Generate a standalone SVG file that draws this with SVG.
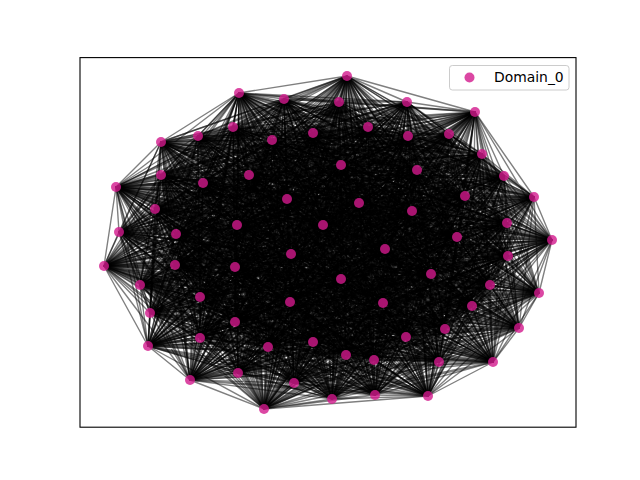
<svg xmlns="http://www.w3.org/2000/svg" width="640" height="480" viewBox="0 0 640 480">
<style>
#edges path{fill:none;stroke:#000;stroke-opacity:.5;stroke-width:1.39;stroke-linejoin:round}
.nd{fill:#d2198c;fill-opacity:.8}
.lbl{font-family:"DejaVu Sans","Liberation Sans",sans-serif;font-size:13.9px;fill:#000}
</style>
<rect width="640" height="480" fill="#fff"/>
<g id="edges">
<path d="M347 76 239 93 428 396 284 99 375 395 339 102 332 399 407 102 264 409 475 112 294 383 233 127 190 380 198 136 238 373 161 142 493 362 272 140 439 362 313 133 374 360 368 127 346 355 408 136 406 337 449 134 313 342 482 154 268 347 341 165 148 346 417 170 200 338 161 175 519 328 203 183 445 329 249 175 235 322 504 176 150 313 116 187 472 306 287 199 383 303 359 203 290 302 465 196 200 297 534 197 539 293 155 209 490 285 412 211 140 285 237 225 431 274 323 225 341 279 507 223 235 267 119 232 175 265 176 234 104 266 457 237 508 256 552 240 291 254 385 249"/>
<path d="M239 93 284 99 347 76 339 102 428 396 407 102 375 395 475 112 332 399 233 127 264 409 198 136 294 383 161 142 190 380 272 140 238 373 313 133 493 362 368 127 439 362 408 136 374 360 449 134 346 355 482 154 406 337 341 165 313 342 417 170 268 347 161 175 148 346 203 183 200 338 249 175 519 328 504 176 445 329 116 187 235 322 287 199 150 313 359 203 472 306 465 196 383 303 534 197 290 302 155 209 200 297 412 211 539 293 237 225 490 285 323 225 140 285 507 223 431 274 119 232 341 279 176 234 235 267 457 237 175 265 552 240 104 266 385 249 508 256 291 254"/>
<path d="M284 99 339 102 239 93 407 102 347 76 475 112 428 396 233 127 375 395 198 136 332 399 161 142 264 409 272 140 294 383 313 133 190 380 368 127 238 373 408 136 493 362 449 134 439 362 482 154 374 360 341 165 346 355 417 170 406 337 161 175 313 342 203 183 268 347 249 175 148 346 504 176 200 338 116 187 519 328 287 199 445 329 359 203 235 322 465 196 150 313 534 197 472 306 155 209 383 303 412 211 290 302 237 225 200 297 323 225 539 293 507 223 490 285 119 232 140 285 176 234 431 274 457 237 341 279 552 240 235 267 385 249 175 265 291 254 104 266 508 256"/>
<path d="M339 102 407 102 284 99 475 112 239 93 233 127 347 76 198 136 428 396 161 142 375 395 272 140 332 399 313 133 264 409 368 127 294 383 408 136 190 380 449 134 238 373 482 154 493 362 341 165 439 362 417 170 374 360 161 175 346 355 203 183 406 337 249 175 313 342 504 176 268 347 116 187 148 346 287 199 200 338 359 203 519 328 465 196 445 329 534 197 235 322 155 209 150 313 412 211 472 306 237 225 383 303 323 225 290 302 507 223 200 297 119 232 539 293 176 234 490 285 457 237 140 285 552 240 431 274 385 249 341 279 291 254 235 267 508 256 175 265 104 266"/>
<path d="M407 102 475 112 339 102 233 127 284 99 198 136 239 93 161 142 347 76 272 140 428 396 313 133 375 395 368 127 332 399 408 136 264 409 449 134 294 383 482 154 190 380 341 165 238 373 417 170 493 362 161 175 439 362 203 183 374 360 249 175 346 355 504 176 406 337 116 187 313 342 287 199 268 347 359 203 148 346 465 196 200 338 534 197 519 328 155 209 445 329 412 211 235 322 237 225 150 313 323 225 472 306 507 223 383 303 119 232 290 302 176 234 200 297 457 237 539 293 552 240 490 285 385 249 140 285 291 254 431 274 508 256 341 279 104 266 235 267 175 265"/>
<path d="M475 112 233 127 407 102 198 136 339 102 161 142 284 99 272 140 239 93 313 133 347 76 368 127 428 396 408 136 375 395 449 134 332 399 482 154 264 409 341 165 294 383 417 170 190 380 161 175 238 373 203 183 493 362 249 175 439 362 504 176 374 360 116 187 346 355 287 199 406 337 359 203 313 342 465 196 268 347 534 197 148 346 155 209 200 338 412 211 519 328 237 225 445 329 323 225 235 322 507 223 150 313 119 232 472 306 176 234 383 303 457 237 290 302 552 240 200 297 385 249 539 293 291 254 490 285 508 256 140 285 104 266 431 274 175 265 341 279 235 267"/>
<path d="M233 127 198 136 475 112 161 142 407 102 272 140 339 102 313 133 284 99 368 127 239 93 408 136 347 76 449 134 428 396 482 154 375 395 341 165 332 399 417 170 264 409 161 175 294 383 203 183 190 380 249 175 238 373 504 176 493 362 116 187 439 362 287 199 374 360 359 203 346 355 465 196 406 337 534 197 313 342 155 209 268 347 412 211 148 346 237 225 200 338 323 225 519 328 507 223 445 329 119 232 235 322 176 234 150 313 457 237 472 306 552 240 383 303 385 249 290 302 291 254 200 297 508 256 539 293 104 266 490 285 175 265 140 285 235 267 431 274 341 279"/>
<path d="M198 136 161 142 233 127 272 140 475 112 313 133 407 102 368 127 339 102 408 136 284 99 449 134 239 93 482 154 347 76 341 165 428 396 417 170 375 395 161 175 332 399 203 183 264 409 249 175 294 383 504 176 190 380 116 187 238 373 287 199 493 362 359 203 439 362 465 196 374 360 534 197 346 355 155 209 406 337 412 211 313 342 237 225 268 347 323 225 148 346 507 223 200 338 119 232 519 328 176 234 445 329 457 237 235 322 552 240 150 313 385 249 472 306 291 254 383 303 508 256 290 302 104 266 200 297 175 265 539 293 235 267 490 285 341 279 140 285 431 274"/>
<path d="M161 142 272 140 198 136 313 133 233 127 368 127 475 112 408 136 407 102 449 134 339 102 482 154 284 99 341 165 239 93 417 170 347 76 161 175 428 396 203 183 375 395 249 175 332 399 504 176 264 409 116 187 294 383 287 199 190 380 359 203 238 373 465 196 493 362 534 197 439 362 155 209 374 360 412 211 346 355 237 225 406 337 323 225 313 342 507 223 268 347 119 232 148 346 176 234 200 338 457 237 519 328 552 240 445 329 385 249 235 322 291 254 150 313 508 256 472 306 104 266 383 303 175 265 290 302 235 267 200 297 341 279 539 293 431 274 490 285 140 285"/>
<path d="M272 140 313 133 161 142 368 127 198 136 408 136 233 127 449 134 475 112 482 154 407 102 341 165 339 102 417 170 284 99 161 175 239 93 203 183 347 76 249 175 428 396 504 176 375 395 116 187 332 399 287 199 264 409 359 203 294 383 465 196 190 380 534 197 238 373 155 209 493 362 412 211 439 362 237 225 374 360 323 225 346 355 507 223 406 337 119 232 313 342 176 234 268 347 457 237 148 346 552 240 200 338 385 249 519 328 291 254 445 329 508 256 235 322 104 266 150 313 175 265 472 306 235 267 383 303 341 279 290 302 431 274 200 297 140 285 539 293 490 285"/>
<path d="M313 133 368 127 272 140 408 136 161 142 449 134 198 136 482 154 233 127 341 165 475 112 417 170 407 102 161 175 339 102 203 183 284 99 249 175 239 93 504 176 347 76 116 187 428 396 287 199 375 395 359 203 332 399 465 196 264 409 534 197 294 383 155 209 190 380 412 211 238 373 237 225 493 362 323 225 439 362 507 223 374 360 119 232 346 355 176 234 406 337 457 237 313 342 552 240 268 347 385 249 148 346 291 254 200 338 508 256 519 328 104 266 445 329 175 265 235 322 235 267 150 313 341 279 472 306 431 274 383 303 140 285 290 302 490 285 200 297 539 293"/>
<path d="M368 127 408 136 313 133 449 134 272 140 482 154 161 142 341 165 198 136 417 170 233 127 161 175 475 112 203 183 407 102 249 175 339 102 504 176 284 99 116 187 239 93 287 199 347 76 359 203 428 396 465 196 375 395 534 197 332 399 155 209 264 409 412 211 294 383 237 225 190 380 323 225 238 373 507 223 493 362 119 232 439 362 176 234 374 360 457 237 346 355 552 240 406 337 385 249 313 342 291 254 268 347 508 256 148 346 104 266 200 338 175 265 519 328 235 267 445 329 341 279 235 322 431 274 150 313 140 285 472 306 490 285 383 303 539 293 290 302 200 297"/>
<path d="M408 136 449 134 368 127 482 154 313 133 341 165 272 140 417 170 161 142 161 175 198 136 203 183 233 127 249 175 475 112 504 176 407 102 116 187 339 102 287 199 284 99 359 203 239 93 465 196 347 76 534 197 428 396 155 209 375 395 412 211 332 399 237 225 264 409 323 225 294 383 507 223 190 380 119 232 238 373 176 234 493 362 457 237 439 362 552 240 374 360 385 249 346 355 291 254 406 337 508 256 313 342 104 266 268 347 175 265 148 346 235 267 200 338 341 279 519 328 431 274 445 329 140 285 235 322 490 285 150 313 539 293 472 306 200 297 383 303 290 302"/>
<path d="M449 134 482 154 408 136 341 165 368 127 417 170 313 133 161 175 272 140 203 183 161 142 249 175 198 136 504 176 233 127 116 187 475 112 287 199 407 102 359 203 339 102 465 196 284 99 534 197 239 93 155 209 347 76 412 211 428 396 237 225 375 395 323 225 332 399 507 223 264 409 119 232 294 383 176 234 190 380 457 237 238 373 552 240 493 362 385 249 439 362 291 254 374 360 508 256 346 355 104 266 406 337 175 265 313 342 235 267 268 347 341 279 148 346 431 274 200 338 140 285 519 328 490 285 445 329 539 293 235 322 200 297 150 313 290 302 472 306 383 303"/>
<path d="M482 154 341 165 449 134 417 170 408 136 161 175 368 127 203 183 313 133 249 175 272 140 504 176 161 142 116 187 198 136 287 199 233 127 359 203 475 112 465 196 407 102 534 197 339 102 155 209 284 99 412 211 239 93 237 225 347 76 323 225 428 396 507 223 375 395 119 232 332 399 176 234 264 409 457 237 294 383 552 240 190 380 385 249 238 373 291 254 493 362 508 256 439 362 104 266 374 360 175 265 346 355 235 267 406 337 341 279 313 342 431 274 268 347 140 285 148 346 490 285 200 338 539 293 519 328 200 297 445 329 290 302 235 322 383 303 150 313 472 306"/>
<path d="M341 165 417 170 482 154 161 175 449 134 203 183 408 136 249 175 368 127 504 176 313 133 116 187 272 140 287 199 161 142 359 203 198 136 465 196 233 127 534 197 475 112 155 209 407 102 412 211 339 102 237 225 284 99 323 225 239 93 507 223 347 76 119 232 428 396 176 234 375 395 457 237 332 399 552 240 264 409 385 249 294 383 291 254 190 380 508 256 238 373 104 266 493 362 175 265 439 362 235 267 374 360 341 279 346 355 431 274 406 337 140 285 313 342 490 285 268 347 539 293 148 346 200 297 200 338 290 302 519 328 383 303 445 329 472 306 235 322 150 313"/>
<path d="M417 170 161 175 341 165 203 183 482 154 249 175 449 134 504 176 408 136 116 187 368 127 287 199 313 133 359 203 272 140 465 196 161 142 534 197 198 136 155 209 233 127 412 211 475 112 237 225 407 102 323 225 339 102 507 223 284 99 119 232 239 93 176 234 347 76 457 237 428 396 552 240 375 395 385 249 332 399 291 254 264 409 508 256 294 383 104 266 190 380 175 265 238 373 235 267 493 362 341 279 439 362 431 274 374 360 140 285 346 355 490 285 406 337 539 293 313 342 200 297 268 347 290 302 148 346 383 303 200 338 472 306 519 328 150 313 445 329 235 322"/>
<path d="M161 175 203 183 417 170 249 175 341 165 504 176 482 154 116 187 449 134 287 199 408 136 359 203 368 127 465 196 313 133 534 197 272 140 155 209 161 142 412 211 198 136 237 225 233 127 323 225 475 112 507 223 407 102 119 232 339 102 176 234 284 99 457 237 239 93 552 240 347 76 385 249 428 396 291 254 375 395 508 256 332 399 104 266 264 409 175 265 294 383 235 267 190 380 341 279 238 373 431 274 493 362 140 285 439 362 490 285 374 360 539 293 346 355 200 297 406 337 290 302 313 342 383 303 268 347 472 306 148 346 150 313 200 338 235 322 519 328 445 329"/>
<path d="M203 183 249 175 161 175 504 176 417 170 116 187 341 165 287 199 482 154 359 203 449 134 465 196 408 136 534 197 368 127 155 209 313 133 412 211 272 140 237 225 161 142 323 225 198 136 507 223 233 127 119 232 475 112 176 234 407 102 457 237 339 102 552 240 284 99 385 249 239 93 291 254 347 76 508 256 428 396 104 266 375 395 175 265 332 399 235 267 264 409 341 279 294 383 431 274 190 380 140 285 238 373 490 285 493 362 539 293 439 362 200 297 374 360 290 302 346 355 383 303 406 337 472 306 313 342 150 313 268 347 235 322 148 346 445 329 200 338 519 328"/>
<path d="M249 175 504 176 203 183 116 187 161 175 287 199 417 170 359 203 341 165 465 196 482 154 534 197 449 134 155 209 408 136 412 211 368 127 237 225 313 133 323 225 272 140 507 223 161 142 119 232 198 136 176 234 233 127 457 237 475 112 552 240 407 102 385 249 339 102 291 254 284 99 508 256 239 93 104 266 347 76 175 265 428 396 235 267 375 395 341 279 332 399 431 274 264 409 140 285 294 383 490 285 190 380 539 293 238 373 200 297 493 362 290 302 439 362 383 303 374 360 472 306 346 355 150 313 406 337 235 322 313 342 445 329 268 347 519 328 148 346 200 338"/>
<path d="M504 176 116 187 249 175 287 199 203 183 359 203 161 175 465 196 417 170 534 197 341 165 155 209 482 154 412 211 449 134 237 225 408 136 323 225 368 127 507 223 313 133 119 232 272 140 176 234 161 142 457 237 198 136 552 240 233 127 385 249 475 112 291 254 407 102 508 256 339 102 104 266 284 99 175 265 239 93 235 267 347 76 341 279 428 396 431 274 375 395 140 285 332 399 490 285 264 409 539 293 294 383 200 297 190 380 290 302 238 373 383 303 493 362 472 306 439 362 150 313 374 360 235 322 346 355 445 329 406 337 519 328 313 342 200 338 268 347 148 346"/>
<path d="M116 187 287 199 504 176 359 203 249 175 465 196 203 183 534 197 161 175 155 209 417 170 412 211 341 165 237 225 482 154 323 225 449 134 507 223 408 136 119 232 368 127 176 234 313 133 457 237 272 140 552 240 161 142 385 249 198 136 291 254 233 127 508 256 475 112 104 266 407 102 175 265 339 102 235 267 284 99 341 279 239 93 431 274 347 76 140 285 428 396 490 285 375 395 539 293 332 399 200 297 264 409 290 302 294 383 383 303 190 380 472 306 238 373 150 313 493 362 235 322 439 362 445 329 374 360 519 328 346 355 200 338 406 337 148 346 313 342 268 347"/>
<path d="M287 199 359 203 116 187 465 196 504 176 534 197 249 175 155 209 203 183 412 211 161 175 237 225 417 170 323 225 341 165 507 223 482 154 119 232 449 134 176 234 408 136 457 237 368 127 552 240 313 133 385 249 272 140 291 254 161 142 508 256 198 136 104 266 233 127 175 265 475 112 235 267 407 102 341 279 339 102 431 274 284 99 140 285 239 93 490 285 347 76 539 293 428 396 200 297 375 395 290 302 332 399 383 303 264 409 472 306 294 383 150 313 190 380 235 322 238 373 445 329 493 362 519 328 439 362 200 338 374 360 148 346 346 355 268 347 406 337 313 342"/>
<path d="M359 203 465 196 287 199 534 197 116 187 155 209 504 176 412 211 249 175 237 225 203 183 323 225 161 175 507 223 417 170 119 232 341 165 176 234 482 154 457 237 449 134 552 240 408 136 385 249 368 127 291 254 313 133 508 256 272 140 104 266 161 142 175 265 198 136 235 267 233 127 341 279 475 112 431 274 407 102 140 285 339 102 490 285 284 99 539 293 239 93 200 297 347 76 290 302 428 396 383 303 375 395 472 306 332 399 150 313 264 409 235 322 294 383 445 329 190 380 519 328 238 373 200 338 493 362 148 346 439 362 268 347 374 360 313 342 346 355 406 337"/>
<path d="M465 196 534 197 359 203 155 209 287 199 412 211 116 187 237 225 504 176 323 225 249 175 507 223 203 183 119 232 161 175 176 234 417 170 457 237 341 165 552 240 482 154 385 249 449 134 291 254 408 136 508 256 368 127 104 266 313 133 175 265 272 140 235 267 161 142 341 279 198 136 431 274 233 127 140 285 475 112 490 285 407 102 539 293 339 102 200 297 284 99 290 302 239 93 383 303 347 76 472 306 428 396 150 313 375 395 235 322 332 399 445 329 264 409 519 328 294 383 200 338 190 380 148 346 238 373 268 347 493 362 313 342 439 362 406 337 374 360 346 355"/>
<path d="M534 197 155 209 465 196 412 211 359 203 237 225 287 199 323 225 116 187 507 223 504 176 119 232 249 175 176 234 203 183 457 237 161 175 552 240 417 170 385 249 341 165 291 254 482 154 508 256 449 134 104 266 408 136 175 265 368 127 235 267 313 133 341 279 272 140 431 274 161 142 140 285 198 136 490 285 233 127 539 293 475 112 200 297 407 102 290 302 339 102 383 303 284 99 472 306 239 93 150 313 347 76 235 322 428 396 445 329 375 395 519 328 332 399 200 338 264 409 148 346 294 383 268 347 190 380 313 342 238 373 406 337 493 362 346 355 439 362 374 360"/>
<path d="M155 209 412 211 534 197 237 225 465 196 323 225 359 203 507 223 287 199 119 232 116 187 176 234 504 176 457 237 249 175 552 240 203 183 385 249 161 175 291 254 417 170 508 256 341 165 104 266 482 154 175 265 449 134 235 267 408 136 341 279 368 127 431 274 313 133 140 285 272 140 490 285 161 142 539 293 198 136 200 297 233 127 290 302 475 112 383 303 407 102 472 306 339 102 150 313 284 99 235 322 239 93 445 329 347 76 519 328 428 396 200 338 375 395 148 346 332 399 268 347 264 409 313 342 294 383 406 337 190 380 346 355 238 373 374 360 493 362 439 362"/>
<path d="M412 211 237 225 155 209 323 225 534 197 507 223 465 196 119 232 359 203 176 234 287 199 457 237 116 187 552 240 504 176 385 249 249 175 291 254 203 183 508 256 161 175 104 266 417 170 175 265 341 165 235 267 482 154 341 279 449 134 431 274 408 136 140 285 368 127 490 285 313 133 539 293 272 140 200 297 161 142 290 302 198 136 383 303 233 127 472 306 475 112 150 313 407 102 235 322 339 102 445 329 284 99 519 328 239 93 200 338 347 76 148 346 428 396 268 347 375 395 313 342 332 399 406 337 264 409 346 355 294 383 374 360 190 380 439 362 238 373 493 362"/>
<path d="M237 225 323 225 412 211 507 223 155 209 119 232 534 197 176 234 465 196 457 237 359 203 552 240 287 199 385 249 116 187 291 254 504 176 508 256 249 175 104 266 203 183 175 265 161 175 235 267 417 170 341 279 341 165 431 274 482 154 140 285 449 134 490 285 408 136 539 293 368 127 200 297 313 133 290 302 272 140 383 303 161 142 472 306 198 136 150 313 233 127 235 322 475 112 445 329 407 102 519 328 339 102 200 338 284 99 148 346 239 93 268 347 347 76 313 342 428 396 406 337 375 395 346 355 332 399 374 360 264 409 439 362 294 383 493 362 190 380 238 373"/>
<path d="M323 225 507 223 237 225 119 232 412 211 176 234 155 209 457 237 534 197 552 240 465 196 385 249 359 203 291 254 287 199 508 256 116 187 104 266 504 176 175 265 249 175 235 267 203 183 341 279 161 175 431 274 417 170 140 285 341 165 490 285 482 154 539 293 449 134 200 297 408 136 290 302 368 127 383 303 313 133 472 306 272 140 150 313 161 142 235 322 198 136 445 329 233 127 519 328 475 112 200 338 407 102 148 346 339 102 268 347 284 99 313 342 239 93 406 337 347 76 346 355 428 396 374 360 375 395 439 362 332 399 493 362 264 409 238 373 294 383 190 380"/>
<path d="M507 223 119 232 323 225 176 234 237 225 457 237 412 211 552 240 155 209 385 249 534 197 291 254 465 196 508 256 359 203 104 266 287 199 175 265 116 187 235 267 504 176 341 279 249 175 431 274 203 183 140 285 161 175 490 285 417 170 539 293 341 165 200 297 482 154 290 302 449 134 383 303 408 136 472 306 368 127 150 313 313 133 235 322 272 140 445 329 161 142 519 328 198 136 200 338 233 127 148 346 475 112 268 347 407 102 313 342 339 102 406 337 284 99 346 355 239 93 374 360 347 76 439 362 428 396 493 362 375 395 238 373 332 399 190 380 264 409 294 383"/>
<path d="M119 232 176 234 507 223 457 237 323 225 552 240 237 225 385 249 412 211 291 254 155 209 508 256 534 197 104 266 465 196 175 265 359 203 235 267 287 199 341 279 116 187 431 274 504 176 140 285 249 175 490 285 203 183 539 293 161 175 200 297 417 170 290 302 341 165 383 303 482 154 472 306 449 134 150 313 408 136 235 322 368 127 445 329 313 133 519 328 272 140 200 338 161 142 148 346 198 136 268 347 233 127 313 342 475 112 406 337 407 102 346 355 339 102 374 360 284 99 439 362 239 93 493 362 347 76 238 373 428 396 190 380 375 395 294 383 332 399 264 409"/>
<path d="M176 234 457 237 119 232 552 240 507 223 385 249 323 225 291 254 237 225 508 256 412 211 104 266 155 209 175 265 534 197 235 267 465 196 341 279 359 203 431 274 287 199 140 285 116 187 490 285 504 176 539 293 249 175 200 297 203 183 290 302 161 175 383 303 417 170 472 306 341 165 150 313 482 154 235 322 449 134 445 329 408 136 519 328 368 127 200 338 313 133 148 346 272 140 268 347 161 142 313 342 198 136 406 337 233 127 346 355 475 112 374 360 407 102 439 362 339 102 493 362 284 99 238 373 239 93 190 380 347 76 294 383 428 396 264 409 375 395 332 399"/>
<path d="M457 237 552 240 176 234 385 249 119 232 291 254 507 223 508 256 323 225 104 266 237 225 175 265 412 211 235 267 155 209 341 279 534 197 431 274 465 196 140 285 359 203 490 285 287 199 539 293 116 187 200 297 504 176 290 302 249 175 383 303 203 183 472 306 161 175 150 313 417 170 235 322 341 165 445 329 482 154 519 328 449 134 200 338 408 136 148 346 368 127 268 347 313 133 313 342 272 140 406 337 161 142 346 355 198 136 374 360 233 127 439 362 475 112 493 362 407 102 238 373 339 102 190 380 284 99 294 383 239 93 264 409 347 76 332 399 428 396 375 395"/>
<path d="M552 240 385 249 457 237 291 254 176 234 508 256 119 232 104 266 507 223 175 265 323 225 235 267 237 225 341 279 412 211 431 274 155 209 140 285 534 197 490 285 465 196 539 293 359 203 200 297 287 199 290 302 116 187 383 303 504 176 472 306 249 175 150 313 203 183 235 322 161 175 445 329 417 170 519 328 341 165 200 338 482 154 148 346 449 134 268 347 408 136 313 342 368 127 406 337 313 133 346 355 272 140 374 360 161 142 439 362 198 136 493 362 233 127 238 373 475 112 190 380 407 102 294 383 339 102 264 409 284 99 332 399 239 93 375 395 347 76 428 396"/>
</g>
<g id="nodes">
<g id="n0"><circle class="nd" cx="347" cy="76" r="5"/></g>
<g id="n1"><circle class="nd" cx="239" cy="93" r="5"/></g>
<g id="n2"><circle class="nd" cx="284" cy="99" r="5"/></g>
<g id="n3"><circle class="nd" cx="339" cy="102" r="5"/></g>
<g id="n4"><circle class="nd" cx="407" cy="102" r="5"/></g>
<g id="n5"><circle class="nd" cx="475" cy="112" r="5"/></g>
<g id="n6"><circle class="nd" cx="233" cy="127" r="5"/></g>
<g id="n7"><circle class="nd" cx="198" cy="136" r="5"/></g>
<g id="n8"><circle class="nd" cx="161" cy="142" r="5"/></g>
<g id="n9"><circle class="nd" cx="272" cy="140" r="5"/></g>
<g id="n10"><circle class="nd" cx="313" cy="133" r="5"/></g>
<g id="n11"><circle class="nd" cx="368" cy="127" r="5"/></g>
<g id="n12"><circle class="nd" cx="408" cy="136" r="5"/></g>
<g id="n13"><circle class="nd" cx="449" cy="134" r="5"/></g>
<g id="n14"><circle class="nd" cx="482" cy="154" r="5"/></g>
<g id="n15"><circle class="nd" cx="341" cy="165" r="5"/></g>
<g id="n16"><circle class="nd" cx="417" cy="170" r="5"/></g>
<g id="n17"><circle class="nd" cx="161" cy="175" r="5"/></g>
<g id="n18"><circle class="nd" cx="203" cy="183" r="5"/></g>
<g id="n19"><circle class="nd" cx="249" cy="175" r="5"/></g>
<g id="n20"><circle class="nd" cx="504" cy="176" r="5"/></g>
<g id="n21"><circle class="nd" cx="116" cy="187" r="5"/></g>
<g id="n22"><circle class="nd" cx="287" cy="199" r="5"/></g>
<g id="n23"><circle class="nd" cx="359" cy="203" r="5"/></g>
<g id="n24"><circle class="nd" cx="465" cy="196" r="5"/></g>
<g id="n25"><circle class="nd" cx="534" cy="197" r="5"/></g>
<g id="n26"><circle class="nd" cx="155" cy="209" r="5"/></g>
<g id="n27"><circle class="nd" cx="412" cy="211" r="5"/></g>
<g id="n28"><circle class="nd" cx="237" cy="225" r="5"/></g>
<g id="n29"><circle class="nd" cx="323" cy="225" r="5"/></g>
<g id="n30"><circle class="nd" cx="507" cy="223" r="5"/></g>
<g id="n31"><circle class="nd" cx="119" cy="232" r="5"/></g>
<g id="n32"><circle class="nd" cx="176" cy="234" r="5"/></g>
<g id="n33"><circle class="nd" cx="457" cy="237" r="5"/></g>
<g id="n34"><circle class="nd" cx="552" cy="240" r="5"/></g>
<g id="n35"><circle class="nd" cx="385" cy="249" r="5"/></g>
<g id="n36"><circle class="nd" cx="291" cy="254" r="5"/></g>
<g id="n37"><circle class="nd" cx="508" cy="256" r="5"/></g>
<g id="n38"><circle class="nd" cx="104" cy="266" r="5"/></g>
<g id="n39"><circle class="nd" cx="175" cy="265" r="5"/></g>
<g id="n40"><circle class="nd" cx="235" cy="267" r="5"/></g>
<g id="n41"><circle class="nd" cx="341" cy="279" r="5"/></g>
<g id="n42"><circle class="nd" cx="431" cy="274" r="5"/></g>
<g id="n43"><circle class="nd" cx="140" cy="285" r="5"/></g>
<g id="n44"><circle class="nd" cx="490" cy="285" r="5"/></g>
<g id="n45"><circle class="nd" cx="539" cy="293" r="5"/></g>
<g id="n46"><circle class="nd" cx="200" cy="297" r="5"/></g>
<g id="n47"><circle class="nd" cx="290" cy="302" r="5"/></g>
<g id="n48"><circle class="nd" cx="383" cy="303" r="5"/></g>
<g id="n49"><circle class="nd" cx="472" cy="306" r="5"/></g>
<g id="n50"><circle class="nd" cx="150" cy="313" r="5"/></g>
<g id="n51"><circle class="nd" cx="235" cy="322" r="5"/></g>
<g id="n52"><circle class="nd" cx="445" cy="329" r="5"/></g>
<g id="n53"><circle class="nd" cx="519" cy="328" r="5"/></g>
<g id="n54"><circle class="nd" cx="200" cy="338" r="5"/></g>
<g id="n55"><circle class="nd" cx="148" cy="346" r="5"/></g>
<g id="n56"><circle class="nd" cx="268" cy="347" r="5"/></g>
<g id="n57"><circle class="nd" cx="313" cy="342" r="5"/></g>
<g id="n58"><circle class="nd" cx="406" cy="337" r="5"/></g>
<g id="n59"><circle class="nd" cx="346" cy="355" r="5"/></g>
<g id="n60"><circle class="nd" cx="374" cy="360" r="5"/></g>
<g id="n61"><circle class="nd" cx="439" cy="362" r="5"/></g>
<g id="n62"><circle class="nd" cx="493" cy="362" r="5"/></g>
<g id="n63"><circle class="nd" cx="238" cy="373" r="5"/></g>
<g id="n64"><circle class="nd" cx="190" cy="380" r="5"/></g>
<g id="n65"><circle class="nd" cx="294" cy="383" r="5"/></g>
<g id="n66"><circle class="nd" cx="264" cy="409" r="5"/></g>
<g id="n67"><circle class="nd" cx="332" cy="399" r="5"/></g>
<g id="n68"><circle class="nd" cx="375" cy="395" r="5"/></g>
<g id="n69"><circle class="nd" cx="428" cy="396" r="5"/></g>
</g>
<rect x="80" y="57.6" width="496" height="369.6" fill="none" stroke="#000" stroke-width="1.1"/>
<g id="legend">
<rect x="449.5" y="65.5" width="119.5" height="24.5" rx="2.8" fill="#fff" fill-opacity=".8" stroke="#ccc" stroke-width="1"/>
<circle class="nd" cx="469.5" cy="77.5" r="5"/>
<text class="lbl" x="494" y="82">Domain_0</text>
</g>
</svg>
